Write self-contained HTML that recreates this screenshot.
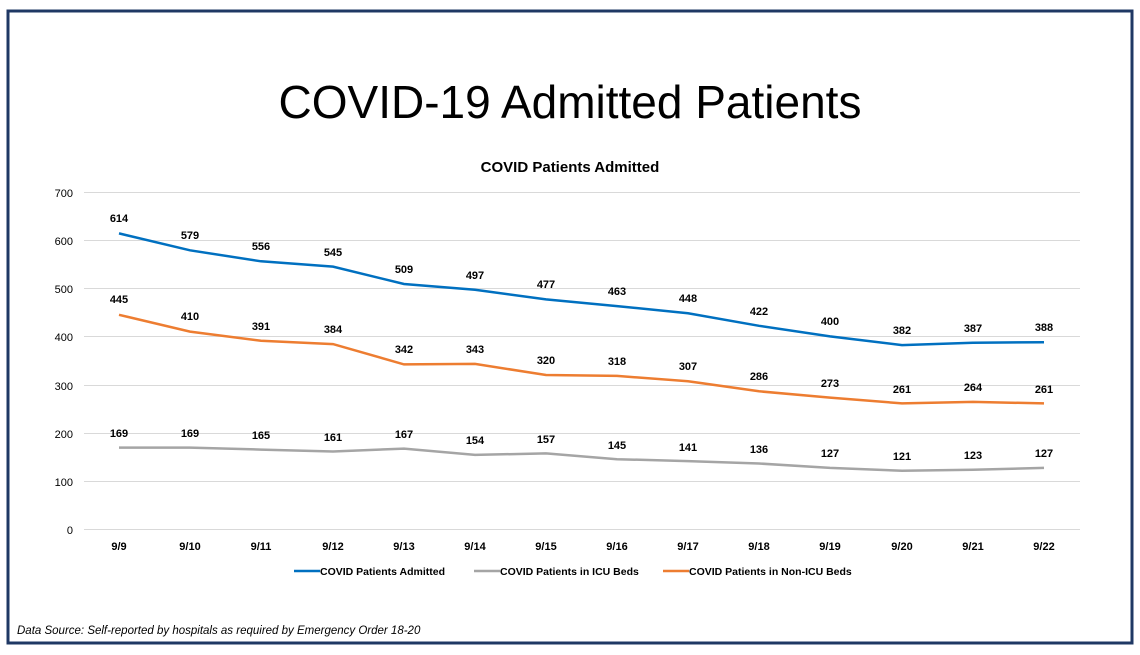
<!DOCTYPE html>
<html><head><meta charset="utf-8"><style>
body{margin:0;background:#fff;}
svg{display:block;font-family:"Liberation Sans",Arial,sans-serif;}
</style></head><body>
<svg width="1140" height="655" viewBox="0 0 1140 655" xmlns="http://www.w3.org/2000/svg">
<rect x="8" y="11" width="1124" height="632" fill="#fff" stroke="#1f3864" stroke-width="3"/>
<text x="570" y="118" text-anchor="middle" font-size="46" fill="#000" style="font-family:'Liberation Sans',sans-serif">COVID-19 Admitted Patients</text>
<text x="570" y="172" text-anchor="middle" font-size="15" font-weight="bold" fill="#000">COVID Patients Admitted</text>
<g stroke="#d9d9d9" stroke-width="1">
<line x1="84" y1="192.5" x2="1080" y2="192.5"/>
<line x1="84" y1="240.5" x2="1080" y2="240.5"/>
<line x1="84" y1="288.5" x2="1080" y2="288.5"/>
<line x1="84" y1="336.5" x2="1080" y2="336.5"/>
<line x1="84" y1="385.5" x2="1080" y2="385.5"/>
<line x1="84" y1="433.5" x2="1080" y2="433.5"/>
<line x1="84" y1="481.5" x2="1080" y2="481.5"/>
<line x1="84" y1="529.5" x2="1080" y2="529.5"/>
</g>
<g font-size="11" fill="#000" text-anchor="end">
<text x="73" y="197">700</text><text x="73" y="245">600</text><text x="73" y="293">500</text><text x="73" y="341">400</text><text x="73" y="390">300</text><text x="73" y="438">200</text><text x="73" y="486">100</text><text x="73" y="534">0</text>
</g>
<g font-size="11" font-weight="bold" fill="#000" text-anchor="middle">
<text x="119" y="550">9/9</text><text x="190" y="550">9/10</text><text x="261" y="550">9/11</text><text x="333" y="550">9/12</text><text x="404" y="550">9/13</text><text x="475" y="550">9/14</text><text x="546" y="550">9/15</text><text x="617" y="550">9/16</text><text x="688" y="550">9/17</text><text x="759" y="550">9/18</text><text x="830" y="550">9/19</text><text x="902" y="550">9/20</text><text x="973" y="550">9/21</text><text x="1044" y="550">9/22</text>
</g>
<polyline fill="none" stroke="#0070c0" stroke-width="2.5" points="119,233.4 190,250.3 261,261.3 333,266.6 404,284 475,289.7 546,299.4 617,306.1 688,313.3 759,325.8 830,336.4 902,345.1 973,342.7 1044,342.2"/>
<polyline fill="none" stroke="#ed7d31" stroke-width="2.5" points="119,314.8 190,331.6 261,340.8 333,344.1 404,364.4 475,363.9 546,375 617,375.9 688,381.2 759,391.3 830,397.6 902,403.4 973,401.9 1044,403.4"/>
<polyline fill="none" stroke="#a5a5a5" stroke-width="2.5" points="119,447.6 190,447.6 261,449.6 333,451.5 404,448.6 475,454.9 546,453.4 617,459.2 688,461.1 759,463.5 830,467.9 902,470.7 973,469.8 1044,467.9"/>
<g font-size="11" font-weight="bold" fill="#000" text-anchor="middle">
<text x="119" y="222">614</text><text x="190" y="239">579</text><text x="261" y="250">556</text><text x="333" y="256">545</text><text x="404" y="273">509</text><text x="475" y="279">497</text><text x="546" y="288">477</text><text x="617" y="295">463</text><text x="688" y="302">448</text><text x="759" y="315">422</text><text x="830" y="325">400</text><text x="902" y="334">382</text><text x="973" y="332">387</text><text x="1044" y="331">388</text>
<text x="119" y="303">445</text><text x="190" y="320">410</text><text x="261" y="330">391</text><text x="333" y="333">384</text><text x="404" y="353">342</text><text x="475" y="353">343</text><text x="546" y="364">320</text><text x="617" y="365">318</text><text x="688" y="370">307</text><text x="759" y="380">286</text><text x="830" y="387">273</text><text x="902" y="393">261</text><text x="973" y="391">264</text><text x="1044" y="393">261</text>
<text x="119" y="437">169</text><text x="190" y="437">169</text><text x="261" y="439">165</text><text x="333" y="441">161</text><text x="404" y="438">167</text><text x="475" y="444">154</text><text x="546" y="443">157</text><text x="617" y="449">145</text><text x="688" y="451">141</text><text x="759" y="453">136</text><text x="830" y="457">127</text><text x="902" y="460">121</text><text x="973" y="459">123</text><text x="1044" y="457">127</text>
</g>
<g font-size="10.5" font-weight="bold" fill="#000">
<line x1="294" y1="571" x2="320" y2="571" stroke="#0070c0" stroke-width="2.5"/><text x="320" y="575">COVID Patients Admitted</text>
<line x1="474" y1="571" x2="500" y2="571" stroke="#a5a5a5" stroke-width="2.5"/><text x="500" y="575">COVID Patients in ICU Beds</text>
<line x1="663" y1="571" x2="689" y2="571" stroke="#ed7d31" stroke-width="2.5"/><text x="689" y="575">COVID Patients in Non-ICU Beds</text>
</g>
<text x="17" y="634" font-size="11.5" font-style="italic" fill="#000">Data Source: Self-reported by hospitals as required by Emergency Order 18-20</text>
</svg>
</body></html>
